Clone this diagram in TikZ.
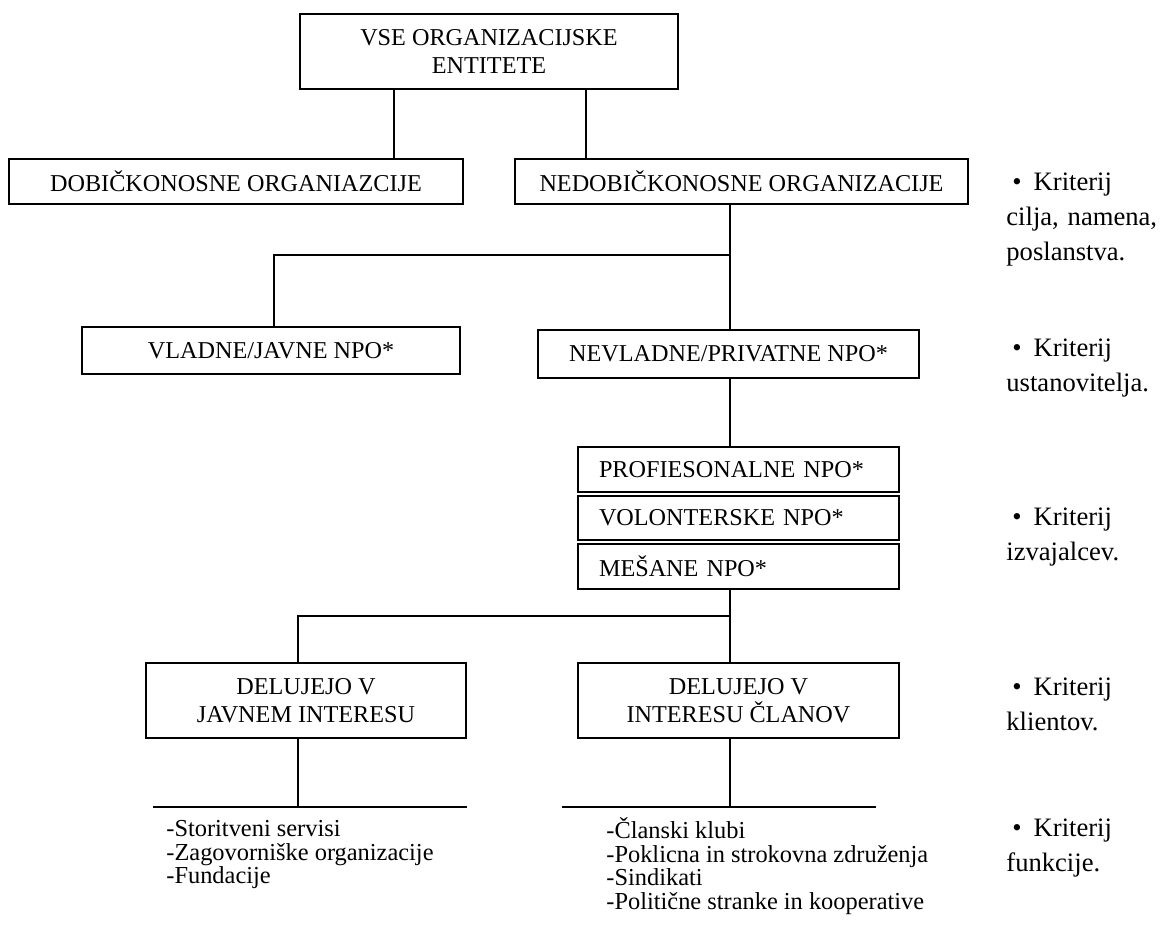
\documentclass[tikz,border=0pt]{standalone}
\usepackage{fontspec}
\setmainfont{Liberation Serif}
\usepackage{tikz}

\begin{document}
\begin{tikzpicture}
  [x=0.5pt,y=-0.5pt,every node/.style={inner sep=0pt},
   box/.style={rectangle,draw=black,line width=1pt,align=center,font=\fontsize{12.1}{13.75}\selectfont},
   stackbox/.style={box,align=left,text width=139.5pt,inner xsep=10.5pt,minimum height=22.5pt},
   list/.style={align=left,anchor=north west,font=\fontsize{12.2}{11.85}\selectfont},
   crit/.style={align=left,anchor=north west,text width=81pt,font=\fontsize{13.3}{17.5}\selectfont},
   link/.style={line width=1pt}]

  \useasboundingbox (0,0) rectangle (1173,925);

  %%%%%%%%%%%%%%%%%%%%%% ROW 1 %%%%%%%%%%%%%%%%%%%%%%
  \node[box,minimum width=189pt,minimum height=37.5pt] (all) at (489,51.5) {VSE ORGANIZACIJSKE\\ENTITETE};

  %%%%%%%%%%%%%%%%%%%%%% ROW 2 %%%%%%%%%%%%%%%%%%%%%%
  \node[box,minimum width=227pt,minimum height=22.5pt] (dob) at (236,181.5) {DOBIČKONOSNE ORGANIAZCIJE};
  \node[box,minimum width=226.5pt,minimum height=22.5pt] (nedob) at (741.5,181.5) {NEDOBIČKONOSNE ORGANIZACIJE};

  %%%%%%%%%%%%%%%%%%%%%% ROW 3 %%%%%%%%%%%%%%%%%%%%%%
  \node[box,minimum width=189pt,minimum height=23.5pt] (vlad) at (271,350.5) {VLADNE/JAVNE NPO*};
  \node[box,minimum width=190.5pt,minimum height=24pt] (nevlad) at (728.5,354) {NEVLADNE/PRIVATNE NPO*};

  %%%%%%%%%%%%%%%%%%%%%% ROW 4 %%%%%%%%%%%%%%%%%%%%%%
  \node[stackbox] (prof) at (738.5,469.5) {PROFIESONALNE NPO*};
  \node[stackbox,minimum height=22pt] (vol) at (738.5,518) {VOLONTERSKE NPO*};
  \node[stackbox] (mes) at (738.5,566.5) {MEŠANE NPO*};

  %%%%%%%%%%%%%%%%%%%%%% ROW 5 %%%%%%%%%%%%%%%%%%%%%%
  \node[box,minimum width=160pt,minimum height=37.5pt] (javn) at (306,700.5) {DELUJEJO V\\JAVNEM INTERESU};
  \node[box,minimum width=160.5pt,minimum height=37.5pt] (clan) at (738.5,700.5) {DELUJEJO V\\INTERESU ČLANOV};

  \node[list] (fun1) at (166,820) {-Storitveni servisi\\-Zagovorniške organizacije\\-Fundacije};
  \node[list] (fun2) at (606,817) {-Članski klubi\\-Poklicna in strokovna združenja\\-Sindikati\\-Politične stranke in kooperative};

  %%%%%%%%%%%%%%%%%%%%%% CRITERIA %%%%%%%%%%%%%%%%%%%%%%
  \node[crit] (kr1) at (1006,172) {\hspace*{3pt}\textbullet\hspace{6pt}Kriterij\\\makebox[\linewidth][s]{cilja, namena,}\\poslanstva.};
  \node[crit] (kr2) at (1006,338) {\hspace*{3pt}\textbullet\hspace{6pt}Kriterij\\ustanovitelja.};
  \node[crit] (kr3) at (1006,507) {\hspace*{3pt}\textbullet\hspace{6pt}Kriterij\\izvajalcev.};
  \node[crit] (kr4) at (1006,677) {\hspace*{3pt}\textbullet\hspace{6pt}Kriterij\\klientov.};
  \node[crit] (kr5) at (1006,818) {\hspace*{3pt}\textbullet\hspace{6pt}Kriterij\\funkcije.};

  %%%%%%%%%%%%%%%%%%%%%% LINES %%%%%%%%%%%%%%%%%%%%%%
  \coordinate (t1) at (394,120);
  \coordinate (t2) at (586,120);
  \coordinate (k1) at (274,255);
  \coordinate (k2) at (730,255);
  \coordinate (k3) at (298,616);
  \coordinate (k4) at (730,616);
  \coordinate (b1) at (298,807);
  \coordinate (b2) at (730,807);
  \coordinate (b1l) at (153,807);
  \coordinate (b1r) at (467,807);
  \coordinate (b2l) at (562,807);
  \coordinate (b2r) at (876,807);

  \foreach \fromN/\toN/\atN in {all/dob/t1,all/nedob/t2,nedob/nevlad/k2,nevlad/prof/k2,mes/clan/k4}
    \draw[link] (\fromN.south -| \atN) -- (\toN.north -| \atN);

  \draw[link] (k2) -- (k1) -- (vlad.north -| k1);
  \draw[link] (k4) -- (k3) -- (javn.north -| k3);

  \draw[link] (javn.south -| b1) -- (b1);
  \draw[link] (clan.south -| b2) -- (b2);
  \draw[link] (b1l) -- (b1r);
  \draw[link] (b2l) -- (b2r);

\end{tikzpicture}
\end{document}
